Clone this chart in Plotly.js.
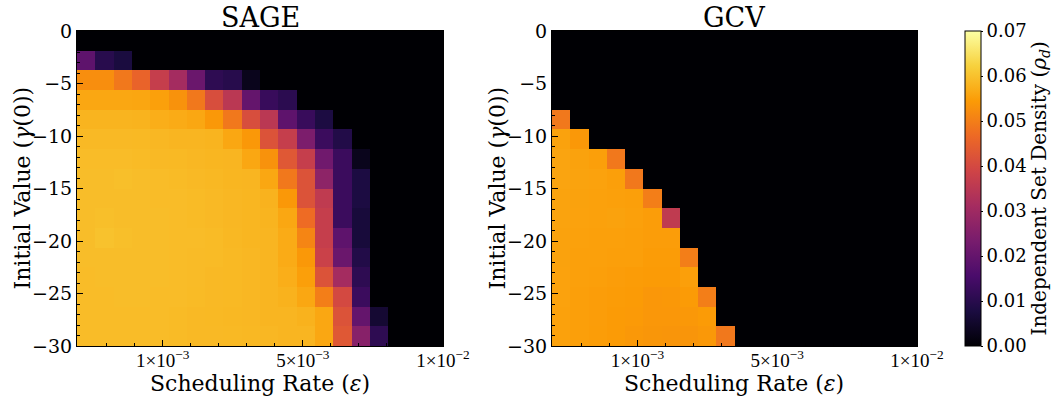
<!DOCTYPE html>
<html>
<head>
<meta charset="utf-8">
<script src="https://cdn.plot.ly/plotly-3.0.1.min.js"></script>
<style>html,body{margin:0;padding:0;background:#fff;}#chart{width:1052px;height:396px;}</style>
</head>
<body>
<div id="chart"></div>
<script>
// ---- data ----
const panelTitles = ['SAGE', 'GCV'];
const xTitle = 'Scheduling Rate (<i>ε</i>)';
const yTitle = 'Initial Value (<i>γ</i>(0))';
const cbTitle = 'Independent Set Density (<i>ρ</i><sub><i>d</i></sub>)';
const gammaTop = 0, gammaBottom = -30;          // initial value range (rows)
const nEpsColumns = 20;                          // scheduling-rate columns
const epsTickPos = [4.68, 12.34, 20];            // column position of labelled rates
const epsTickText = ['1×10<sup>−3</sup>', '5×10<sup>−3</sup>', '1×10<sup>−2</sup>'];
const densityTicks = [0, 0.01, 0.02, 0.03, 0.04, 0.05, 0.06, 0.07];

// rows: gamma(0) from 0 (top) to -30 (bottom); columns: increasing epsilon
const sageDensity = [
 [0,0,0,0,0,0,0,0,0,0,0,0,0,0,0,0,0,0,0,0],
 [0.019,0.010,0.0075,0,0,0,0,0,0,0,0,0,0,0,0,0,0,0,0,0],
 [0.0525,0.0525,0.049,0.0455,0.037,0.031,0.021,0.011,0.0098,0.003,0,0,0,0,0,0,0,0,0,0],
 [0.0562,0.0562,0.0562,0.056,0.0552,0.053,0.049,0.041,0.035,0.020,0.0125,0.0105,0,0,0,0,0,0,0,0],
 [0.058,0.058,0.058,0.0579,0.0572,0.0567,0.0562,0.054,0.049,0.041,0.035,0.019,0.0125,0.008,0,0,0,0,0,0],
 [0.0588,0.0588,0.0588,0.0587,0.0585,0.0582,0.0582,0.058,0.0562,0.054,0.042,0.037,0.024,0.013,0.009,0,0,0,0,0],
 [0.0592,0.0592,0.0592,0.059,0.0588,0.0587,0.0585,0.0583,0.0582,0.0562,0.053,0.043,0.037,0.022,0.013,0.003,0,0,0,0],
 [0.0594,0.0594,0.0596,0.0594,0.0592,0.059,0.0588,0.0586,0.0583,0.0582,0.0562,0.049,0.042,0.027,0.013,0.008,0,0,0,0],
 [0.0594,0.0594,0.0594,0.0594,0.0592,0.0592,0.059,0.0588,0.0585,0.0583,0.0578,0.054,0.042,0.036,0.013,0.008,0,0,0,0],
 [0.0594,0.0596,0.0594,0.0594,0.0594,0.0592,0.059,0.0588,0.0585,0.0583,0.058,0.0562,0.047,0.037,0.013,0.007,0,0,0,0],
 [0.0594,0.06,0.0596,0.0594,0.0594,0.0592,0.0592,0.059,0.0586,0.0583,0.0582,0.0567,0.051,0.037,0.019,0.007,0,0,0,0],
 [0.0594,0.0594,0.0594,0.0594,0.0594,0.0592,0.0591,0.059,0.0587,0.0585,0.0582,0.0567,0.054,0.038,0.021,0.009,0,0,0,0],
 [0.0592,0.0594,0.0594,0.0594,0.0594,0.0592,0.0591,0.0588,0.0587,0.0585,0.0582,0.0572,0.055,0.042,0.031,0.011,0,0,0,0],
 [0.0592,0.0592,0.0594,0.0594,0.0592,0.0592,0.059,0.0588,0.0587,0.0585,0.0582,0.0577,0.0562,0.050,0.040,0.013,0,0,0,0],
 [0.0592,0.0592,0.0592,0.0592,0.0592,0.059,0.0588,0.0587,0.0586,0.0585,0.0582,0.0582,0.0577,0.0562,0.042,0.020,0.006,0,0,0],
 [0.0592,0.0592,0.0592,0.0592,0.0592,0.059,0.0588,0.0588,0.0587,0.0586,0.0585,0.0582,0.0582,0.0562,0.043,0.026,0.011,0,0,0]
];

const gcvDensity = [
 [0,0,0,0,0,0,0,0,0,0,0,0,0,0,0,0,0,0,0,0],
 [0,0,0,0,0,0,0,0,0,0,0,0,0,0,0,0,0,0,0,0],
 [0,0,0,0,0,0,0,0,0,0,0,0,0,0,0,0,0,0,0,0],
 [0,0,0,0,0,0,0,0,0,0,0,0,0,0,0,0,0,0,0,0],
 [0.049,0,0,0,0,0,0,0,0,0,0,0,0,0,0,0,0,0,0,0],
 [0.0555,0.054,0,0,0,0,0,0,0,0,0,0,0,0,0,0,0,0,0,0],
 [0.0558,0.0555,0.055,0.049,0,0,0,0,0,0,0,0,0,0,0,0,0,0,0,0],
 [0.0558,0.0556,0.0554,0.055,0.049,0,0,0,0,0,0,0,0,0,0,0,0,0,0,0],
 [0.0556,0.0555,0.0553,0.0552,0.055,0.050,0,0,0,0,0,0,0,0,0,0,0,0,0,0],
 [0.0556,0.0554,0.0553,0.0555,0.0552,0.0548,0.036,0,0,0,0,0,0,0,0,0,0,0,0,0],
 [0.0555,0.0553,0.0552,0.0552,0.055,0.0548,0.0548,0,0,0,0,0,0,0,0,0,0,0,0,0],
 [0.0555,0.0552,0.0552,0.055,0.055,0.0546,0.0546,0.050,0,0,0,0,0,0,0,0,0,0,0,0],
 [0.0554,0.0552,0.055,0.0548,0.0546,0.0545,0.0545,0.055,0,0,0,0,0,0,0,0,0,0,0,0],
 [0.0554,0.055,0.0548,0.0546,0.0544,0.0538,0.054,0.0545,0.050,0,0,0,0,0,0,0,0,0,0,0],
 [0.0553,0.055,0.0548,0.0545,0.0543,0.0538,0.0538,0.054,0.0545,0,0,0,0,0,0,0,0,0,0,0],
 [0.0553,0.055,0.0547,0.0545,0.054,0.0536,0.0535,0.0535,0.054,0.049,0,0,0,0,0,0,0,0,0,0]
];

// ---- build ----
const inferno = [
 [0/9,'#000004'],[1/9,'#1b0c41'],[2/9,'#4a0c6b'],[3/9,'#781c6d'],[4/9,'#a52c60'],
 [5/9,'#cf4446'],[6/9,'#ed6925'],[7/9,'#fb9b06'],[8/9,'#f7d13d'],[9/9,'#fcffa4']
];
const nRows = sageDensity.length;
const xEdges = Array.from({length: nEpsColumns + 1}, (_, i) => i);
const yEdges = Array.from({length: nRows + 1}, (_, i) => gammaTop + (gammaBottom - gammaTop) * i / nRows);
const step = (epsTickPos[1] - epsTickPos[0]) / 5;
const minorX = [];
for (let v = epsTickPos[0] - 3 * step; v < epsTickPos[epsTickPos.length - 1] - 1e-6; v += step) {
  if (v > 0.5 && !epsTickPos.some(t => Math.abs(t - v) < 1e-6)) minorX.push(v);
}

const mk = (z, xa, ya) => ({type:'heatmap', z:z, x:xEdges, y:yEdges, xaxis:xa, yaxis:ya,
  coloraxis:'coloraxis', zsmooth:false, hoverinfo:'skip'});

const serif = 'DejaVu Serif, serif';
function xAxis(domain, anchor){
  return {domain:domain, anchor:anchor, range:[0, nEpsColumns], showgrid:false, zeroline:false,
    showline:true, linecolor:'black', linewidth:1, mirror:true,
    tickmode:'array', tickvals:epsTickPos, ticktext:epsTickText,
    ticks:'inside', ticklen:6, tickwidth:1, tickcolor:'black', ticklabelstandoff:-3,
    minor:{tickmode:'array', tickvals:minorX, ticks:'inside', ticklen:3, tickwidth:1, tickcolor:'black'},
    tickfont:{family:'Liberation Serif, serif', size:19, color:'black'},
    title:{text:''}};
}
function yAxis(domain, anchor){
  return {domain:domain, anchor:anchor, range:[gammaBottom, gammaTop], showgrid:false, zeroline:false,
    showline:true, linecolor:'black', linewidth:1, mirror:true,
    tickmode:'linear', tick0:0, dtick:5,
    ticks:'inside', ticklen:6, tickwidth:1, tickcolor:'black',
    minor:{dtick:1, ticks:'inside', ticklen:3, tickwidth:1, tickcolor:'black'},
    tickfont:{family:serif, size:19, color:'black'},
    title:{text:''}};
}
const W = 1052, H = 396;
const yDom = [1 - 346/H, 1 - 31/H];
const yMid = (yDom[0] + yDom[1]) / 2;
const ann = (text, x, y, size, angle) => ({text:text, xref:'paper', yref:'paper', x:x, y:y,
  xanchor:'center', yanchor:'middle', showarrow:false, textangle:angle || 0,
  font:{family:serif, size:size, color:'black'}});
const layout = {
  width:W, height:H, margin:{l:0, r:0, t:0, b:0},
  paper_bgcolor:'white', plot_bgcolor:'black',
  font:{family:serif, color:'black'},
  xaxis: xAxis([77/W, 443/W], 'y'),
  yaxis: yAxis(yDom, 'x'),
  xaxis2: xAxis([552/W, 917/W], 'y2'),
  yaxis2: yAxis(yDom, 'x2'),
  coloraxis:{cmin:0, cmax:0.07, colorscale:inferno,
    colorbar:{x:965/W, xanchor:'left', y:yMid, yanchor:'middle',
      thickness:16, thicknessmode:'pixels', len:315, lenmode:'pixels',
      outlinecolor:'black', outlinewidth:1, tickmode:'array', tickvals:densityTicks, tickformat:'.2f',
      ticks:'outside', ticklen:2, tickcolor:'black', xpad:0, ypad:0,
      tickfont:{family:serif, size:18, color:'black'},
      title:{text:''}}},
  annotations:[
    ann(panelTitles[0], 260/W, 1 - 17/H, 27),
    ann(panelTitles[1], 734/W, 1 - 17/H, 27),
    ann(yTitle, 22/W, yMid, 22, -90),
    ann(yTitle, 497/W, yMid, 22, -90),
    ann(xTitle, 260/W, 1 - 383/H, 22),
    ann(xTitle, 734/W, 1 - 383/H, 22),
    ann(cbTitle, 1039/W, yMid, 20, -90)
  ]
};
Plotly.newPlot('chart', [mk(sageDensity,'x','y'), mk(gcvDensity,'x2','y2')], layout, {staticPlot:true, displayModeBar:false});
</script>
</body>
</html>
